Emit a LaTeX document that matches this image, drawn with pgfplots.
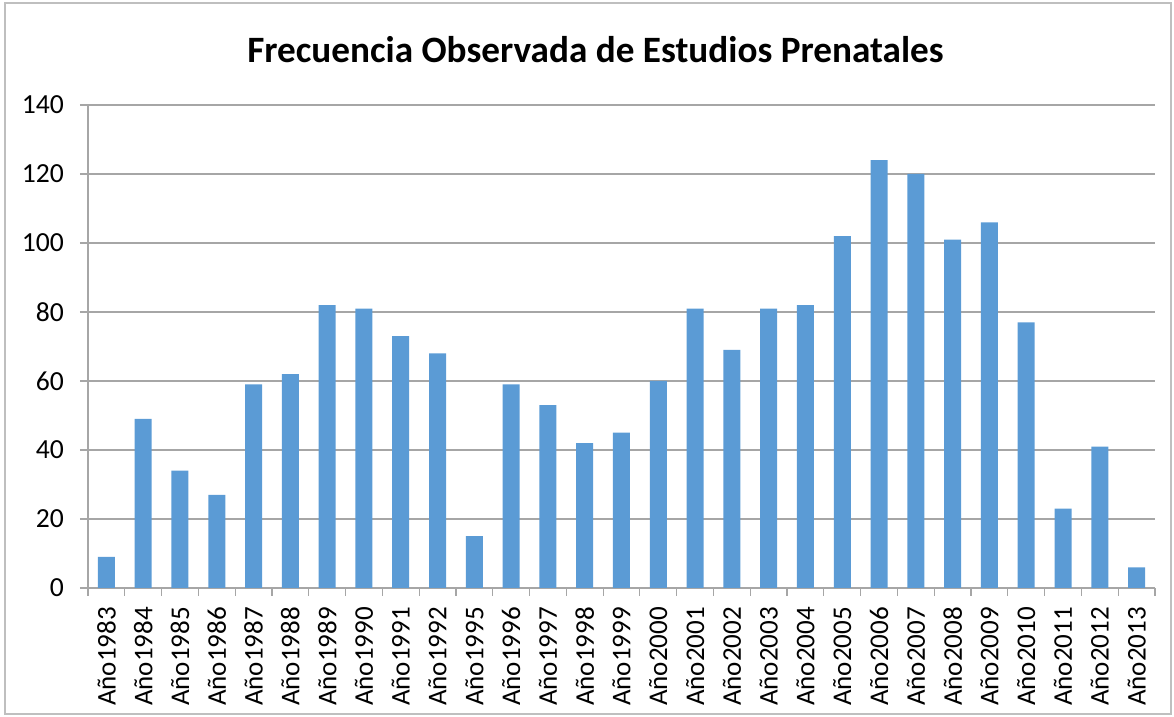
\documentclass[border=0pt]{standalone}
\usepackage{fontspec}
\setmainfont{Carlito}
\usepackage{pgfplots}
\pgfplotsset{compat=1.18}
\definecolor{barblue}{HTML}{5B9BD5}
\definecolor{gridgray}{HTML}{A6A6A6}
\definecolor{framegray}{HTML}{BFBFBF}
\begin{document}
\begin{tikzpicture}
\useasboundingbox (-44pt,-64.5pt) rectangle (543pt,294pt);
\draw[framegray, line width=0.6pt] (-41.5pt,-63pt) rectangle (541.5pt,292.5pt);
\begin{axis}[
  at={(0pt,0pt)}, anchor=south west,
  scale only axis,
  width=533.5pt, height=241.5pt,
  ybar, bar width=8.5pt,
  ymin=0, ymax=140, ytick={0,20,...,140},
  xmin=-0.5, xmax=28.5,
  xtick={0,...,28},
  xticklabels={Año1983,Año1984,Año1985,Año1986,Año1987,Año1988,Año1989,Año1990,Año1991,Año1992,Año1995,Año1996,Año1997,Año1998,Año1999,Año2000,Año2001,Año2002,Año2003,Año2004,Año2005,Año2006,Año2007,Año2008,Año2009,Año2010,Año2011,Año2012,Año2013},
  minor xtick={-0.5,0.5,...,28.5},
  major x tick style={draw=none},
  minor tick length=4pt,
  major tick length=4pt,
  tick align=outside,
  tick style={gridgray, line width=0.6pt},
  xticklabel style={rotate=90, anchor=east, font=\fontsize{13.5}{14}\selectfont, xshift=-2pt},
  yticklabel style={font=\fontsize{13.8}{14}\selectfont, xshift=-4.5pt},
  /pgf/number format/assume math mode=true,
  ymajorgrids, grid style={gridgray, line width=0.6pt},
  axis x line*=bottom, axis y line*=left,
  axis line style={gridgray, line width=0.6pt, -},
  clip=false,
]
\addplot[fill=barblue, draw=none] coordinates {
(0,9) (1,49) (2,34) (3,27) (4,59) (5,62) (6,82) (7,81) (8,73) (9,68)
(10,15) (11,59) (12,53) (13,42) (14,45) (15,60) (16,81) (17,69) (18,81) (19,82)
(20,102) (21,124) (22,120) (23,101) (24,106) (25,77) (26,23) (27,41) (28,6)
};
\end{axis}
\node[font=\fontsize{18.6}{20}\selectfont\bfseries] at (253.75pt,269pt) {Frecuencia Observada de Estudios Prenatales};
\end{tikzpicture}
\end{document}
